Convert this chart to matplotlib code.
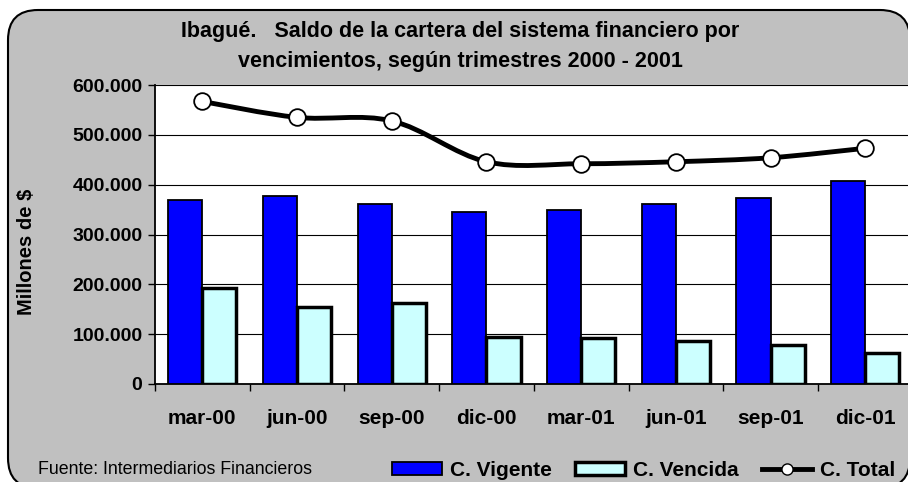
# cartera del sistema financiero - Ibagué 2000-2001
import matplotlib
matplotlib.use('Agg')
import matplotlib.pyplot as plt
import numpy as np
from matplotlib.patches import FancyBboxPatch, Patch, PathPatch
from matplotlib.lines import Line2D
from matplotlib.path import Path
from matplotlib.ticker import FuncFormatter

# Datos (millones de $)
trimestres = ['mar-00', 'jun-00', 'sep-00', 'dic-00', 'mar-01', 'jun-01', 'sep-01', 'dic-01']
vigente = [369000, 377000, 361000, 346000, 350000, 361000, 374000, 408000]
vencida = [193000, 155000, 163000, 95000, 92000, 86000, 78000, 62000]
total = [567000, 535000, 528000, 446000, 442000, 446000, 454000, 473000]

plt.rcParams['font.family'] = ['Liberation Sans', 'DejaVu Sans']

fig = plt.figure(figsize=(9.08, 4.82), dpi=100)
fig.patch.set_facecolor('white')

# marco redondeado gris (en pixeles), se corta a la derecha y abajo
marco = FancyBboxPatch((8, -6), 902, 488 - 10, boxstyle='round,pad=0,rounding_size=30',
                       transform=None, facecolor='#C0C0C0', edgecolor='black', linewidth=1.5,
                       zorder=-10)
fig.patches.append(marco)

# area del grafico (se sale por la derecha como en el original)
W, H = 908, 482
ax = fig.add_axes([155 / W, (H - 384) / H, 8 * 94.7 / W, (384 - 85) / H])
ax.set_facecolor('white')

x = np.arange(len(trimestres))
ancho = 0.36
ax.bar(x - ancho / 2, vigente, ancho, color='#0000FF', edgecolor='black', linewidth=1.3, zorder=3)
ax.bar(x + ancho / 2, vencida, ancho, color='#CCFFFF', edgecolor='black', linewidth=2.5, zorder=3)

# linea suavizada estilo Excel (Bezier por los puntos)
pts = np.column_stack([x, total]).astype(float)
ext = np.vstack([pts[0], pts, pts[-1]])
verts = [tuple(pts[0])]
codes = [Path.MOVETO]
for i in range(len(pts) - 1):
    p0, p1, p2, p3 = ext[i], ext[i + 1], ext[i + 2], ext[i + 3]
    c1 = p1 + (p2 - p0) / 6
    c2 = p2 - (p3 - p1) / 6
    verts += [tuple(c1), tuple(c2), tuple(p2)]
    codes += [Path.CURVE4] * 3
ax.add_patch(PathPatch(Path(verts, codes), facecolor='none', edgecolor='black', linewidth=3.5,
                       zorder=4, capstyle='round', joinstyle='round'))
ax.plot(x, total, linestyle='none', marker='o', markersize=12, markerfacecolor='white',
        markeredgecolor='black', markeredgewidth=1.3, zorder=5)

ax.set_xlim(-0.5, len(trimestres) - 0.5)
ax.set_ylim(0, 600000)
ax.set_yticks(np.arange(0, 600001, 100000))
ax.yaxis.set_major_formatter(FuncFormatter(lambda v, p: '{:,.0f}'.format(v).replace(',', '.')))
ax.set_xticks(x)
ax.set_xticklabels(trimestres)
ax.set_xticks(np.arange(-0.5, len(trimestres), 1), minor=True)
ax.tick_params(axis='x', which='major', length=0, pad=18, labelsize=15)
ax.tick_params(axis='x', which='minor', length=5, width=1, direction='out')
ax.tick_params(axis='y', length=5, width=1, direction='out', labelsize=14, pad=4)
for lbl in ax.get_xticklabels() + ax.get_yticklabels():
    lbl.set_fontweight('bold')

ax.grid(axis='y', color='black', linewidth=0.8, zorder=0)
ax.set_axisbelow(True)
for s in ['top', 'right']:
    ax.spines[s].set_visible(False)
ax.spines['left'].set_linewidth(1.3)
ax.spines['bottom'].set_linewidth(1.3)

fig.text(27 / W, 1 - 252 / H, 'Millones de $', rotation=90, ha='center', va='center',
         fontsize=14.5, fontweight='bold')

fig.text(460 / W, 1 - 31 / H, 'Ibagué.   Saldo de la cartera del sistema financiero por',
         ha='center', va='center', fontsize=15.5, fontweight='bold')
fig.text(460 / W, 1 - 61 / H, 'vencimientos, según trimestres 2000 - 2001',
         ha='center', va='center', fontsize=15.5, fontweight='bold')

fig.text(38 / W, 1 - 470 / H, 'Fuente: Intermediarios Financieros', ha='left', va='center',
         fontsize=12.8)

handles = [
    Patch(facecolor='#0000FF', edgecolor='black', linewidth=1.3),
    Patch(facecolor='#CCFFFF', edgecolor='black', linewidth=2.5),
    Line2D([], [], color='black', linewidth=3.5, marker='o', markersize=8,
           markerfacecolor='white', markeredgecolor='black'),
]
fig.legend(handles, ['C. Vigente', 'C. Vencida', 'C. Total'], loc='center left',
           bbox_to_anchor=(392 / W, 1 - 470 / H), ncol=3, frameon=False,
           prop={'weight': 'bold', 'size': 15}, handlelength=2.4, handleheight=0.6,
           handletextpad=0.4, columnspacing=1.1, borderpad=0, borderaxespad=0)

fig.savefig('out.png', dpi=100)
